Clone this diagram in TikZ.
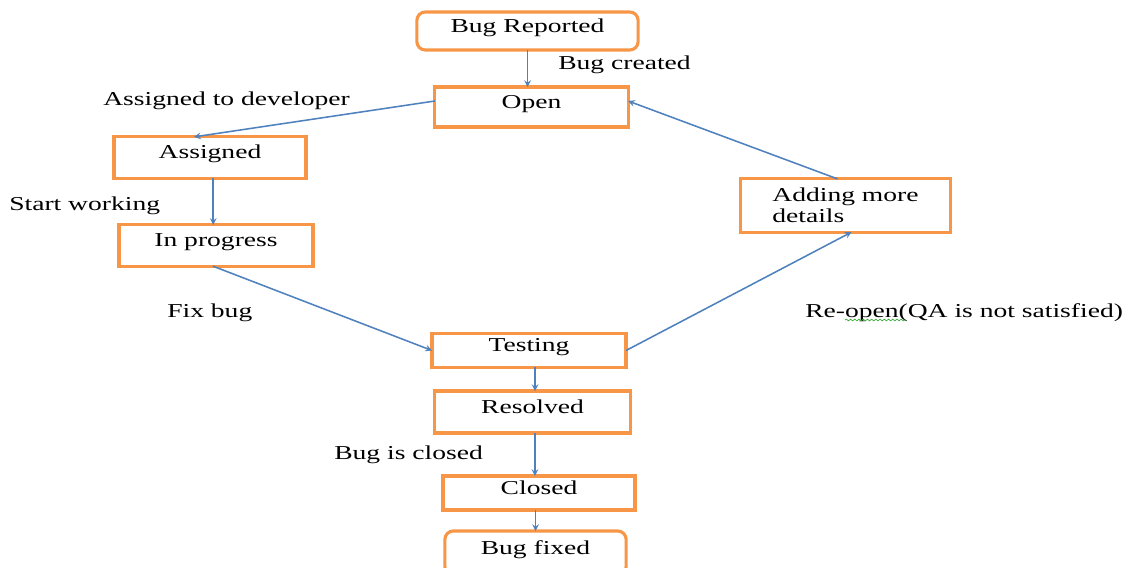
\documentclass[tikz,border=0pt]{standalone}
\usepackage{fontspec}
\setmainfont{Liberation Serif}[FakeStretch=1.4]
\usepackage{xcolor}
\usepackage{tikz}
\usetikzlibrary{arrows, positioning, decorations.pathmorphing}
\definecolor{boxorange}{RGB}{247,150,70}
\definecolor{linkblue}{RGB}{79,129,189}
\definecolor{spellgreen}{RGB}{60,170,60}

\begin{document}
\begin{tikzpicture}[
  x=0.025cm, y=-0.025cm,
  font=\fontsize{14}{15}\selectfont,
  state/.style={rectangle, draw=boxorange, line width=2.2pt, fill=white, inner sep=0pt, outer sep=0pt, text=black, text height=0.7em, text depth=0.5em},
  endstate/.style={state, rounded corners=6pt},
  note/.style={anchor=west, inner sep=0pt, text=black},
  arrow/.style={->, >=stealth, draw=linkblue, line width=1.1pt}
]
\useasboundingbox (0,0) rectangle (1129,567);

\node[endstate, minimum width=5.53cm, minimum height=0.95cm] (report) at (527.5,31) {Bug Reported};
\node[state, minimum width=4.83cm, minimum height=1.0cm] (open) at (531.5,107) {Open};
\node[state, minimum width=4.8cm, minimum height=1.03cm] (assigned) at (210,157.5) {Assigned};
\node[state, minimum width=4.85cm, minimum height=1.03cm] (progress) at (216,245.5) {In progress};
\node[state, minimum width=5.23cm, minimum height=1.33cm, align=left, text height=, text depth=] (details) at (845.5,205.5) {Adding more\\details};
\node[state, minimum width=4.85cm, minimum height=0.83cm] (testing) at (529,350.5) {Testing};
\node[state, minimum width=4.88cm, minimum height=1.05cm] (resolved) at (532.5,412) {Resolved};
\node[state, minimum width=4.8cm, minimum height=0.85cm] (closed) at (539,493) {Closed};
\node[endstate, minimum width=4.53cm, minimum height=1.1cm] (fixed) at (535.5,553) {Bug fixed};

\node[note] (created) at (558,65) {Bug created};
\node[note] (todev) at (103,101) {Assigned to developer};
\node[note] (startwork) at (9,206) {Start working};
\node[note] (fixbug) at (167,313) {Fix bug};
\node[note] (reopen) at (805,313) {Re-open(QA is not satisfied)};
\node[note] (isclosed) at (334,455) {Bug is closed};

\draw[arrow] (report.south) -- (report.south |- open.north);
\draw[arrow] ([yshift=0.15cm]open.west) -- ([xshift=-0.4cm]assigned.north);
\draw[arrow] ([xshift=0.08cm]assigned.south) -- ([xshift=0.08cm]assigned.south |- progress.north);
\draw[arrow] ([xshift=-0.08cm]progress.south) -- (testing.west);
\draw[arrow] (testing.east) -- ([xshift=0.15cm]details.south);
\draw[arrow] ([xshift=-0.2cm]details.north) -- ([yshift=0.15cm]open.east);
\draw[arrow] ([xshift=0.15cm]testing.south) -- ([xshift=0.15cm]testing.south |- resolved.north);
\draw[arrow] ([xshift=0.06cm]resolved.south) -- ([xshift=0.06cm]resolved.south |- closed.north);
\draw[arrow] (fixed.north |- closed.south) -- (fixed.north);

\draw[spellgreen, line width=0.5pt, decorate, decoration={snake, amplitude=0.6pt, segment length=3pt}] (845,320) -- (906,320);
\end{tikzpicture}
\end{document}
